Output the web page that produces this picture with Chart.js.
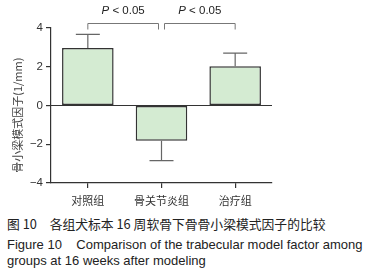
<!DOCTYPE html>
<html>
<head>
<meta charset="utf-8">
<script src="https://cdn.jsdelivr.net/npm/chart.js@4.4.1/dist/chart.umd.min.js"></script>
<style>
    body { margin: 0; background: #fff; width: 375px; height: 277px; overflow: hidden; }
    .chartBox { position: relative; width: 375px; height: 212px; }
    .caption { position: absolute; left: 7px; font-family: "Liberation Sans", sans-serif; font-size: 13px; line-height: 15px; color: #222; white-space: pre; }
</style>
</head>
<body>
<div class="chartBox"><canvas id="mfChart"></canvas></div>
<div class="caption" style="top:216px; font-family: 'Noto Sans CJK SC', sans-serif; font-size: 12.8px;">图 10　各组犬标本 16 周软骨下骨骨小梁模式因子的比较</div>
<div class="caption" style="top:237px;">Figure 10    Comparison of the trabecular model factor among</div>
<div class="caption" style="top:253px;">groups at 16 weeks after modeling</div>
<script>
const groups = ["对照组", "骨关节炎组", "治疗组"]
const meanValues = [2.97, -1.82, 2.03]
const errorValues = [0.70, 1.02, 0.67]
const yTicks = [-4, -2, 0, 2, 4]
const yTitle = "骨小梁模式因子(1/mm)"
// pairs compared, with the label shown above each bracket
const comparisons = [[0, 1], [1, 2]]
const comparisonLabel = "< 0.05"

const axisColor = "#333"
const textColor = "#333"

// error bars, zero line, y title and significance brackets
const extrasPlugin = {
    id: "extras",
    afterDatasetsDraw(chart) {
        const ctx = chart.ctx
        const x = chart.scales.x
        const y = chart.scales.y
        const area = chart.chartArea
        const meta = chart.getDatasetMeta(0)

        ctx.save()
        // zero line
        ctx.strokeStyle = axisColor
        ctx.lineWidth = 1.2
        ctx.beginPath()
        ctx.moveTo(area.left, y.getPixelForValue(0))
        ctx.lineTo(area.right, y.getPixelForValue(0))
        ctx.stroke()

        // error bars
        ctx.strokeStyle = "#666"
        ctx.lineWidth = 1.2
        meanValues.forEach((v, i) => {
            const bar = meta.data[i]
            const end = v >= 0 ? v + errorValues[i] : v - errorValues[i]
            const yStart = y.getPixelForValue(v)
            const yEnd = y.getPixelForValue(end)
            ctx.beginPath()
            ctx.moveTo(bar.x, yStart)
            ctx.lineTo(bar.x, yEnd)
            ctx.moveTo(bar.x - 12, yEnd)
            ctx.lineTo(bar.x + 12, yEnd)
            ctx.stroke()
        })

        // y title, sits a little below the middle like the original
        ctx.save()
        ctx.translate(18, y.getPixelForValue(-0.5))
        ctx.rotate(-Math.PI / 2)
        ctx.fillStyle = "#444"
        ctx.font = "11px 'Noto Sans CJK SC'"
        ctx.textAlign = "center"
        ctx.textBaseline = "middle"
        ctx.fillText(yTitle, 0, 0)
        ctx.restore()

        // brackets
        ctx.strokeStyle = "#777"
        ctx.lineWidth = 1
        const topY = area.top - 4.5
        const legY = area.top + 1.5
        comparisons.forEach((pair, k) => {
            let x1 = x.getPixelForValue(pair[0])
            let x2 = x.getPixelForValue(pair[1])
            if (k === 0) x2 -= 3
            else x1 += 3
            ctx.beginPath()
            ctx.moveTo(x1, legY)
            ctx.lineTo(x1, topY)
            ctx.lineTo(x2, topY)
            ctx.lineTo(x2, legY)
            ctx.stroke()

            const cx = (x1 + x2) / 2
            ctx.fillStyle = "#222"
            ctx.textBaseline = "middle"
            ctx.font = "italic 11.5px 'Liberation Sans'"
            const pW = ctx.measureText("P ").width
            ctx.font = "11.5px 'Liberation Sans'"
            const restW = ctx.measureText(comparisonLabel).width
            const startX = cx - (pW + restW) / 2
            ctx.textAlign = "left"
            ctx.font = "italic 11.5px 'Liberation Sans'"
            ctx.fillText("P ", startX, topY - 12.5)
            ctx.font = "11.5px 'Liberation Sans'"
            ctx.fillText(comparisonLabel, startX + pW, topY - 12.5)
        })
        ctx.restore()
    }
}

const ctx = document.getElementById("mfChart")

new Chart(ctx, {
    type: "bar",
    data: {
        labels: groups,
        datasets: [{
            data: meanValues,
            backgroundColor: "#d4ebd2",
            borderColor: "#333",
            borderWidth: 1.5,
            borderSkipped: false,
            categoryPercentage: 1,
            barPercentage: 0.7
        }]
    },
    options: {
        responsive: true,
        maintainAspectRatio: false,
        animation: false,
        devicePixelRatio: 1,
        layout: { padding: { left: 0, right: 103, top: 28, bottom: 0 } },
        plugins: {
            legend: { display: false },
            tooltip: { enabled: false }
        },
        scales: {
            x: {
                afterFit: (scale) => { scale.height = 29 },
                border: { color: axisColor, width: 1.2 },
                grid: { display: true, drawOnChartArea: false, offset: false, tickLength: 5, color: axisColor, lineWidth: 1.2 },
                ticks: { color: textColor, padding: 6, font: { family: "'Noto Sans CJK SC'", size: 11 } }
            },
            y: {
                min: -4,
                max: 4,
                afterFit: (scale) => { scale.width = 51 },
                afterBuildTicks: (scale) => { scale.ticks = yTicks.map(v => ({ value: v })) },
                border: { color: axisColor, width: 1.2 },
                grid: { display: true, drawOnChartArea: false, tickLength: 5, color: axisColor, lineWidth: 1.2 },
                ticks: {
                    color: textColor,
                    padding: 3,
                    font: { family: "'Liberation Sans'", size: 11.5 },
                    callback: (v) => String(v).replace("-", "\u2212")
                },
                title: { display: false }
            }
        }
    },
    plugins: [extrasPlugin]
})
</script>
</body>
</html>
